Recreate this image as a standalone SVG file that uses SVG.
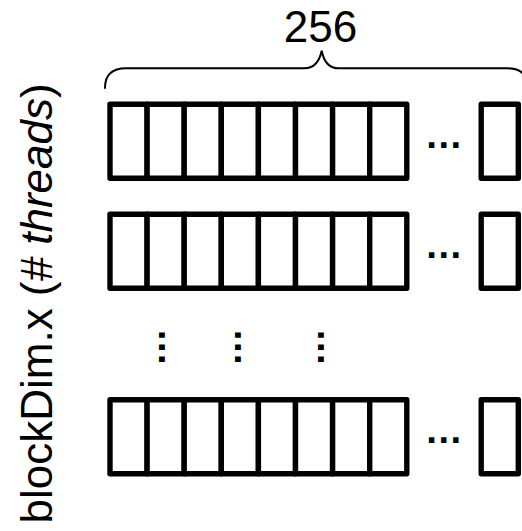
<svg xmlns="http://www.w3.org/2000/svg" width="522" height="531" viewBox="0 0 522 531">
  <style>
    .cell { fill: #ffffff; stroke: #000000; stroke-width: 5.4; stroke-linejoin: round; }
    .brace { fill: none; stroke: #000000; stroke-width: 2; stroke-linecap: round; }
    .label { font-family: "Liberation Sans", Arial, sans-serif; font-size: 44px; fill: #000000; }
    .dots { font-family: "Liberation Sans", Arial, sans-serif; font-size: 38px; font-weight: bold; fill: #000000; text-anchor: middle; }
  </style>
  <rect width="522" height="531" fill="#ffffff"/>

  <!-- width label with brace -->
  <g id="width-label">
    <path class="brace" d="M105,88 Q105,68.3 126,68.3 H304 Q318,68.3 321.7,50.7 Q325,68.3 339,68.3 H507 Q528,68.3 528,88"/>
    <text class="label" x="320.5" y="41.7" text-anchor="middle">256</text>
  </g>

  <!-- height label -->
  <g id="height-label">
    <text class="label" transform="translate(51.7,523.5) rotate(-90)" x="0" y="0">blockDim.x (<tspan font-style="italic"># threads</tspan>)</text>
  </g>

  <!-- first row of threads -->
  <g id="row-1">
    <rect class="cell" x="110" y="104.2" width="37.1" height="74"/>
    <rect class="cell" x="147.1" y="104.2" width="37.1" height="74"/>
    <rect class="cell" x="184.2" y="104.2" width="37.1" height="74"/>
    <rect class="cell" x="221.3" y="104.2" width="37.1" height="74"/>
    <rect class="cell" x="258.4" y="104.2" width="37.1" height="74"/>
    <rect class="cell" x="295.5" y="104.2" width="37.1" height="74"/>
    <rect class="cell" x="332.6" y="104.2" width="37.1" height="74"/>
    <rect class="cell" x="369.7" y="104.2" width="37.1" height="74"/>
    <text class="dots" transform="translate(443.7,145)" x="0" y="2.5">…</text>
    <rect class="cell" x="481.2" y="104.2" width="37.1" height="74"/>
  </g>

  <!-- second row of threads -->
  <g id="row-2">
    <rect class="cell" x="110" y="214.2" width="37.1" height="74"/>
    <rect class="cell" x="147.1" y="214.2" width="37.1" height="74"/>
    <rect class="cell" x="184.2" y="214.2" width="37.1" height="74"/>
    <rect class="cell" x="221.3" y="214.2" width="37.1" height="74"/>
    <rect class="cell" x="258.4" y="214.2" width="37.1" height="74"/>
    <rect class="cell" x="295.5" y="214.2" width="37.1" height="74"/>
    <rect class="cell" x="332.6" y="214.2" width="37.1" height="74"/>
    <rect class="cell" x="369.7" y="214.2" width="37.1" height="74"/>
    <text class="dots" transform="translate(443.7,255)" x="0" y="2.5">…</text>
    <rect class="cell" x="481.2" y="214.2" width="37.1" height="74"/>
  </g>

  <!-- vertical ellipses between rows -->
  <g id="row-gap">
    <text class="dots" transform="translate(161.7,347.3) rotate(90)" x="0" y="2.5">…</text>
    <text class="dots" transform="translate(237,347.3) rotate(90)" x="0" y="2.5">…</text>
    <text class="dots" transform="translate(320,347.3) rotate(90)" x="0" y="2.5">…</text>
  </g>

  <!-- last row of threads -->
  <g id="row-n">
    <rect class="cell" x="110" y="399.7" width="37.1" height="74"/>
    <rect class="cell" x="147.1" y="399.7" width="37.1" height="74"/>
    <rect class="cell" x="184.2" y="399.7" width="37.1" height="74"/>
    <rect class="cell" x="221.3" y="399.7" width="37.1" height="74"/>
    <rect class="cell" x="258.4" y="399.7" width="37.1" height="74"/>
    <rect class="cell" x="295.5" y="399.7" width="37.1" height="74"/>
    <rect class="cell" x="332.6" y="399.7" width="37.1" height="74"/>
    <rect class="cell" x="369.7" y="399.7" width="37.1" height="74"/>
    <text class="dots" transform="translate(443.7,440)" x="0" y="2.5">…</text>
    <rect class="cell" x="481.2" y="399.7" width="37.1" height="74"/>
  </g>
</svg>
